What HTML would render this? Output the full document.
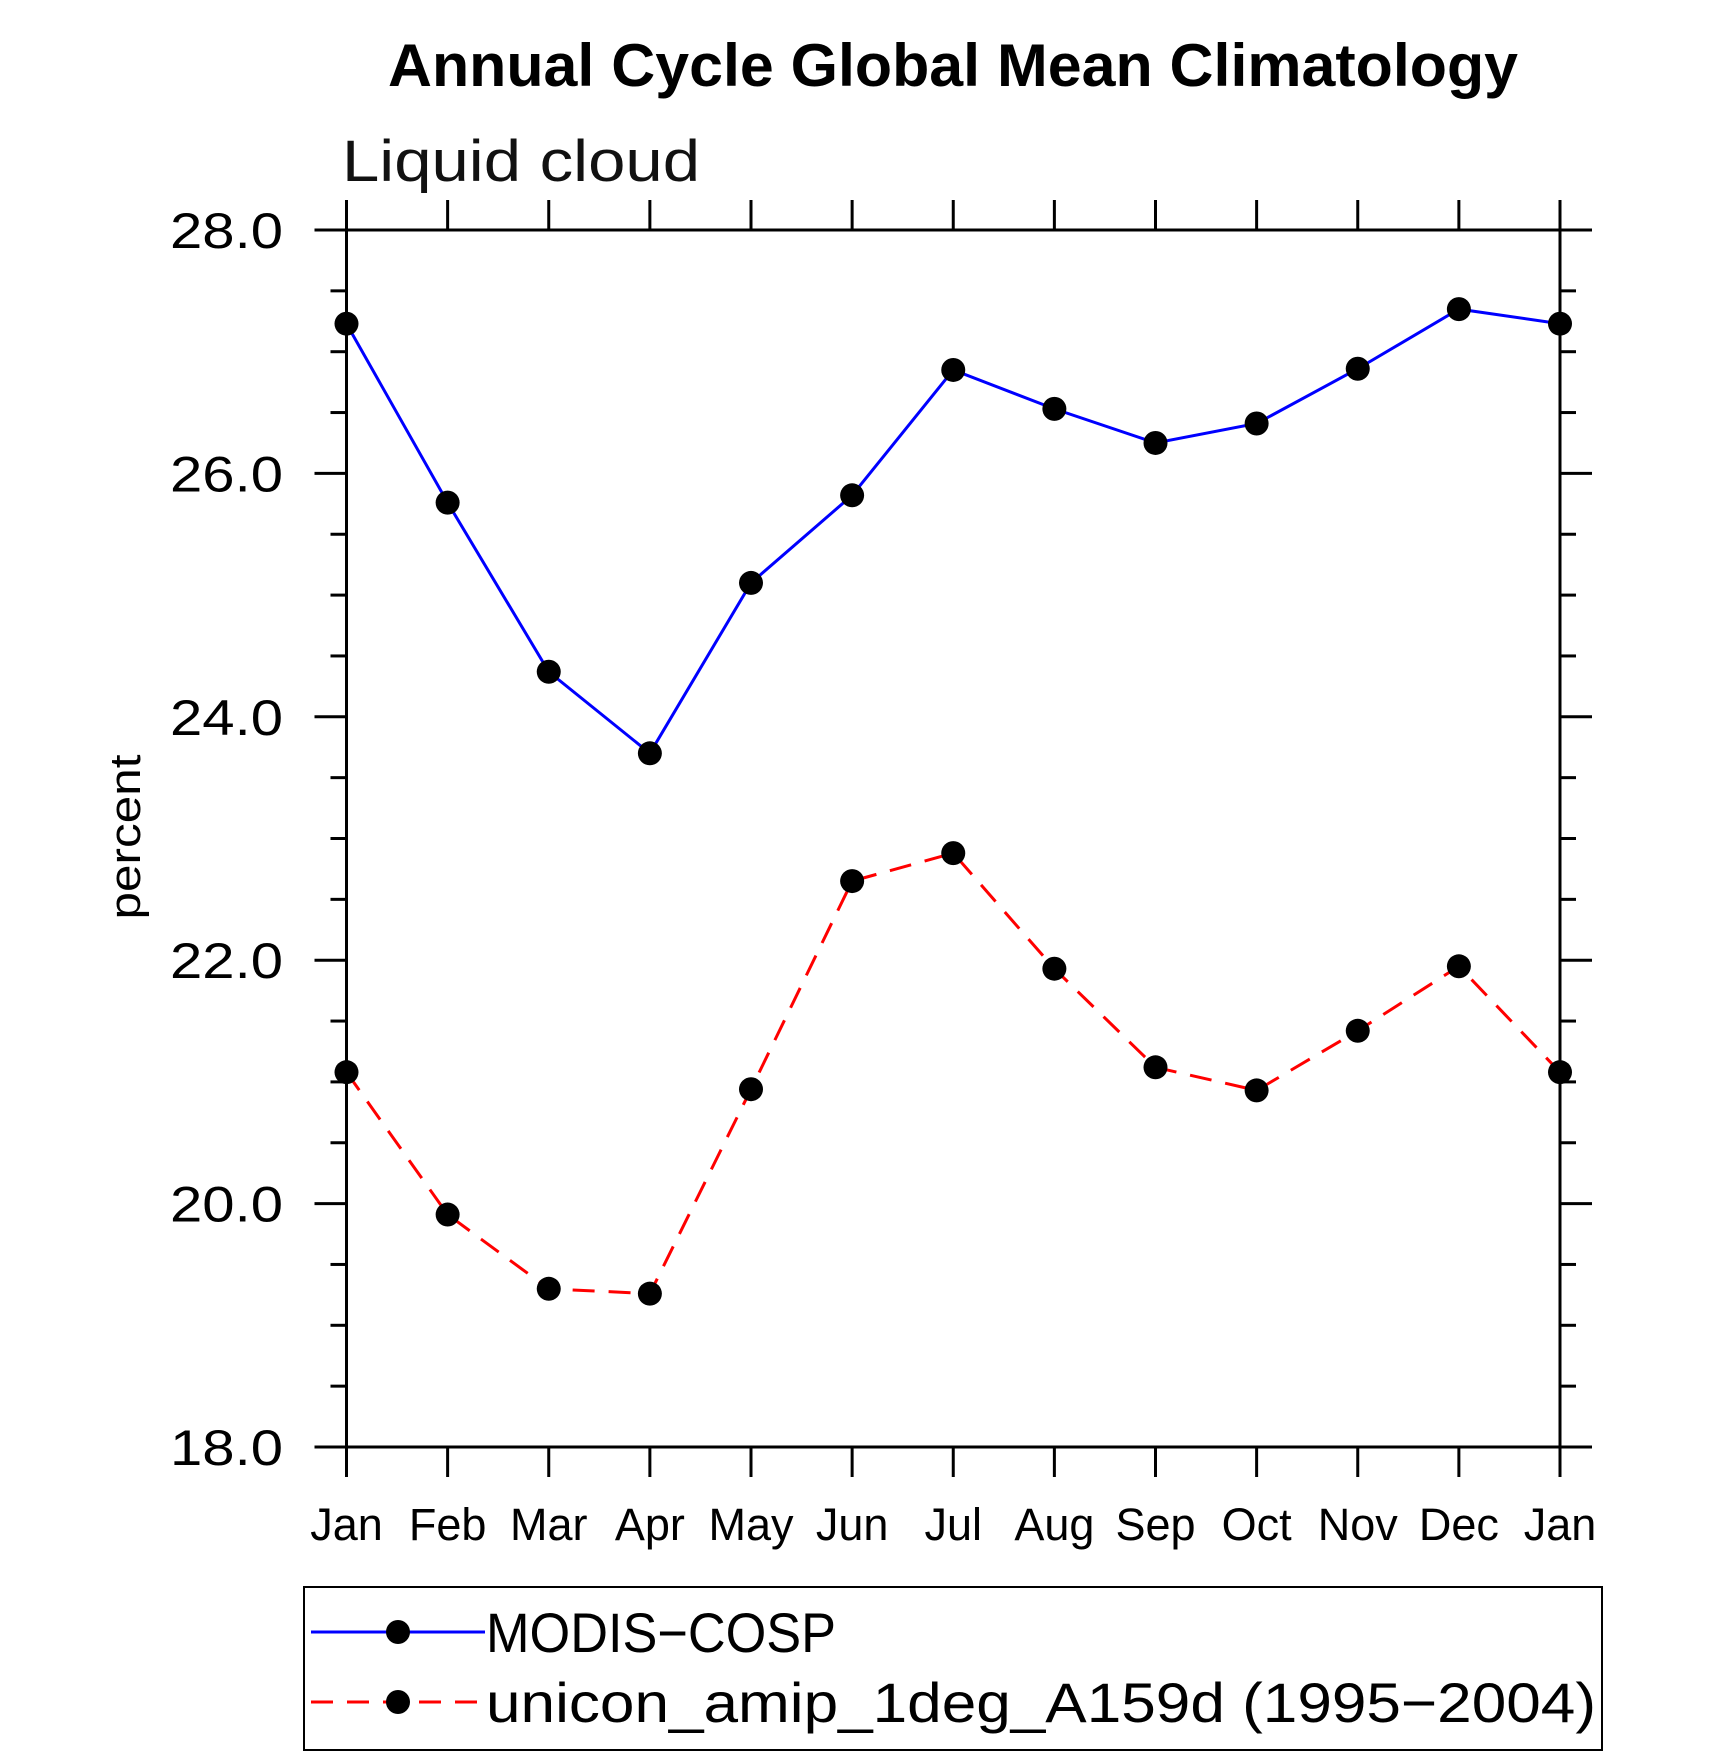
<!DOCTYPE html>
<html><head><meta charset="utf-8"><style>
html,body{margin:0;padding:0;background:#fff;}
svg{display:block;}
text{font-family:"Liberation Sans",sans-serif;}
</style></head><body>
<svg id="chart" width="1710" height="1757" viewBox="0 0 1710 1757" xmlns="http://www.w3.org/2000/svg">
<text x="953" y="86" text-anchor="middle" font-size="60" font-weight="bold" textLength="1130" lengthAdjust="spacingAndGlyphs">Annual Cycle Global Mean Climatology</text>
<text x="342" y="181" font-size="58" font-weight="normal" textLength="358" lengthAdjust="spacingAndGlyphs" fill="#111">Liquid cloud</text>
<text transform="translate(140,837) rotate(-90)" text-anchor="middle" font-size="44" textLength="165" lengthAdjust="spacingAndGlyphs">percent</text>
<g id="axes"></g>
<g id="series"></g>
<g id="legend">
<rect x="304" y="1587" width="1298" height="163" fill="none" stroke="#000" stroke-width="2"/>
<g>
<line x1="311" y1="1632" x2="485" y2="1632" stroke="#0000ff" stroke-width="3"/>
<circle cx="398" cy="1632" r="12" fill="#000"/>
<text x="486" y="1652" font-size="56" textLength="350" lengthAdjust="spacingAndGlyphs">MODIS−COSP</text>
</g>
<g>
<line x1="311" y1="1702" x2="485" y2="1702" stroke="#ff0000" stroke-width="3" stroke-dasharray="22,14"/>
<circle cx="398" cy="1702" r="12" fill="#000"/>
<text x="486" y="1722" font-size="56" textLength="1110" lengthAdjust="spacingAndGlyphs">unicon_amip_1deg_A159d (1995−2004)</text>
</g>
</g>
</svg>
<script>
const months = ["Jan","Feb","Mar","Apr","May","Jun","Jul","Aug","Sep","Oct","Nov","Dec","Jan"];
const modisValues = [27.23,25.76,24.37,23.70,25.10,25.82,26.85,26.53,26.25,26.41,26.86,27.35,27.23];
const uniconValues = [21.08,19.91,19.30,19.26,20.94,22.65,22.88,21.93,21.12,20.93,21.42,21.95,21.08];
const yTickValues = [18,20,22,24,26,28];
const yTickLabels = ["18.0","20.0","22.0","24.0","26.0","28.0"];

const L=346.5,R=1560,T=230,B=1447,YMIN=18,YMAX=28;
const xs=i=>L+(R-L)*i/(months.length-1);
const ys=v=>B-(B-T)*(v-YMIN)/(YMAX-YMIN);
const NS="http://www.w3.org/2000/svg";
function mk(tag,attrs,parent){const e=document.createElementNS(NS,tag);for(const k in attrs)e.setAttribute(k,attrs[k]);parent.appendChild(e);return e;}
const ax=document.getElementById('axes');
const st={stroke:"#000","stroke-width":3};
let e;
e=mk('line',Object.assign({x1:L,y1:T,x2:L,y2:B},st),ax);


e=mk('line',Object.assign({x1:R,y1:T,x2:R,y2:B},st),ax);


e=mk('line',Object.assign({x1:L-32,y1:T,x2:R+32,y2:T},st),ax);


e=mk('line',Object.assign({x1:L-32,y1:B,x2:R+32,y2:B},st),ax);


months.forEach((m,i)=>{
  const x=xs(i);
  let t=mk('line',Object.assign({x1:x,y1:T-30,x2:x,y2:T},st),ax);
  
  
  t=mk('line',Object.assign({x1:x,y1:B,x2:x,y2:B+30},st),ax);
  
  
  const lb=mk('text',{x:x,y:1540,"text-anchor":"middle","font-size":"45"},ax);
  lb.textContent=m;
  
  
});
for(let v=YMIN;v<=YMAX+1e-9;v+=0.5){
  if(Math.abs(v-Math.round(v/2)*2)<1e-9)continue;
  const y=ys(v);
  let t=mk('line',Object.assign({x1:L-16,y1:y,x2:L,y2:y},st),ax);
  
  
  t=mk('line',Object.assign({x1:R,y1:y,x2:R+16,y2:y},st),ax);
  
  
}
yTickValues.forEach((v,i)=>{
  const y=ys(v);
  let t=mk('line',Object.assign({x1:L-32,y1:y,x2:L,y2:y},st),ax);
  
  
  t=mk('line',Object.assign({x1:R,y1:y,x2:R+32,y2:y},st),ax);
  
  
  const lb=mk('text',{x:170,y:y+18,"font-size":"50",textLength:"113",lengthAdjust:"spacingAndGlyphs"},ax);
  lb.textContent=yTickLabels[i];
  
  
});
const sg=document.getElementById('series');
function drawSeries(vals,color,dash,name){
  const pts=vals.map((v,i)=>xs(i)+","+ys(v)).join(" ");
  const pl=mk('polyline',{points:pts,fill:"none",stroke:color,"stroke-width":3},sg);
  if(dash)pl.setAttribute('stroke-dasharray',dash);
  
  
  vals.forEach((v,i)=>{
    const c=mk('circle',{cx:xs(i),cy:ys(v),r:12,fill:"#000"},sg);
    
    
  });
}
drawSeries(modisValues,"#0000ff",null,"modis-cosp");
drawSeries(uniconValues,"#ff0000","22,14","unicon-amip");
</script>
</body></html>
